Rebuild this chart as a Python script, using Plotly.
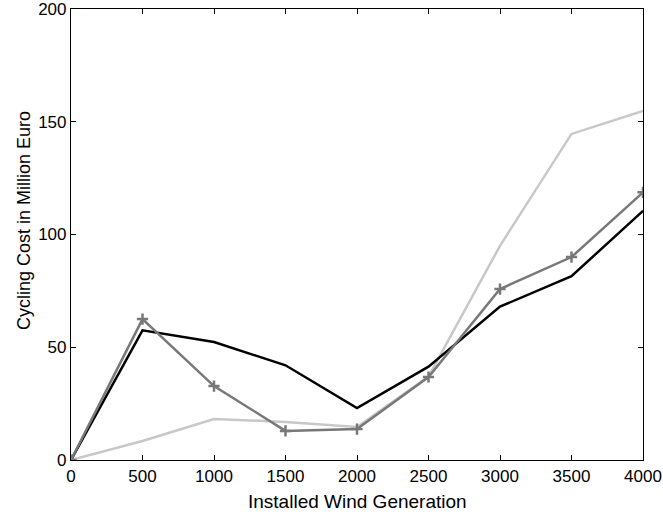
import plotly.graph_objects as go

# Installed wind generation (MW) and cycling cost (million euro) per scenario
wind = [0, 500, 1000, 1500, 2000, 2500, 3000, 3500, 4000]
cost_black = [0, 57.5, 52.3, 42.0, 23.0, 41.4, 68.0, 81.5, 110.5]
cost_dark = [0, 62.5, 32.8, 12.9, 13.7, 36.8, 75.8, 90.0, 118.7]
cost_light = [0, 8.4, 18.2, 16.9, 14.6, 37.0, 95.0, 144.6, 154.8]

x_ticks = [0, 500, 1000, 1500, 2000, 2500, 3000, 3500, 4000]
y_ticks = [0, 50, 100, 150, 200]

FONT = "Liberation Sans, Arial, Helvetica, sans-serif"

fig = go.Figure()
fig.add_trace(go.Scatter(x=wind, y=cost_light, mode="lines",
                         line=dict(color="#c8c8c8", width=2.5)))
fig.add_trace(go.Scatter(x=wind, y=cost_black, mode="lines",
                         line=dict(color="#000000", width=2.5)))
fig.add_trace(go.Scatter(x=wind, y=cost_dark, mode="lines+markers",
                         line=dict(color="#787878", width=2.5),
                         marker=dict(symbol="cross-thin", size=8,
                                     line=dict(color="#787878", width=2.5))))

axis_common = dict(
    automargin=False,
    ticklabeloverflow="allow",
    showgrid=False, zeroline=False,
    showline=True, linecolor="black", linewidth=1.2,
    mirror="ticks", ticks="inside", ticklen=5, tickwidth=1, tickcolor="black",
    tickfont=dict(family=FONT, size=17, color="black"),
)

fig.update_layout(
    width=663, height=514,
    margin=dict(l=71, r=20, t=9, b=54),
    paper_bgcolor="white", plot_bgcolor="white",
    showlegend=False,
    xaxis=dict(range=[0, 4000], tickvals=x_ticks,
               ticktext=[str(v) for v in x_ticks], **axis_common),
    yaxis=dict(range=[0, 200], tickvals=y_ticks,
               ticktext=[str(v) for v in y_ticks], **axis_common),
    annotations=[
        dict(text="Installed Wind Generation", xref="paper", yref="paper",
             x=0.5, y=0, yshift=-29, xanchor="center", yanchor="top",
             showarrow=False, font=dict(family=FONT, size=19, color="black")),
        dict(text="Cycling Cost in Million Euro", xref="paper", yref="paper",
             x=0, xshift=-47, y=0.53, xanchor="center", yanchor="middle",
             textangle=-90, showarrow=False,
             font=dict(family=FONT, size=18, color="black")),
    ],
)

fig.write_html("out.html")
